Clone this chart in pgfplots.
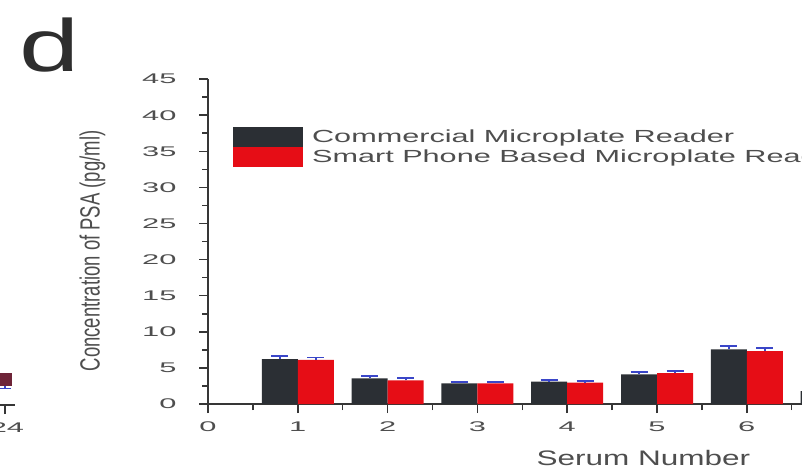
\documentclass[border=0pt]{standalone}
\usepackage{fontspec}
\setmainfont{Liberation Sans}
\usepackage{graphicx}
\usepackage{pgfplots}
\usepackage{pgfplotstable}
\pgfplotsset{compat=1.18}

\definecolor{barblack}{HTML}{2B2F34}
\definecolor{barred}{HTML}{E60D16}
\definecolor{errblue}{HTML}{3A46C8}
\definecolor{txtgray}{HTML}{4E4E4E}
\definecolor{axgray}{HTML}{363636}
\definecolor{dotmaroon}{HTML}{6E2438}

% wide lettering of the figure
\newcommand{\sx}[1]{\scalebox{1.5}[1]{#1}}
\newcommand{\sy}[1]{\scalebox{1}[1.5]{#1}}
\newcommand{\sxx}[1]{\scalebox{2.2}[1]{#1}}
\newcommand{\sxl}[1]{\scalebox{1.75}[1]{#1}}

% PSA concentration per serum sample (pg/ml) with error
\pgfplotstableread{
serum commercial comerr phone phoneerr
1 6.20 0.40 6.10 0.35
2 3.56 0.35 3.28 0.30
3 2.87 0.20 2.87 0.20
4 3.09 0.25 2.95 0.20
5 4.11 0.30 4.29 0.30
6 7.58 0.45 7.34 0.45
7 1.80 0.20 1.80 0.20
}\serumdata

\begin{document}
\begin{tikzpicture}
\useasboundingbox (0,0) rectangle (802pt,474pt);
\clip (0,0) rectangle (802pt,474pt);
\fill[white] (0,0) rectangle (802pt,474pt);

% panel letter
\node[anchor=south west, inner sep=0pt, text=black!82] at (19pt,402pt)
  {\fontsize{74}{74}\selectfont\scalebox{1.46}[1]{d}};

% edge of the neighbouring panel
\begin{axis}[
  at={(15pt,69pt)}, anchor=south east,
  x=20pt, y=1pt,
  xmin=23, xmax=24.5, ymin=0, ymax=40,
  axis x line*=bottom, axis y line=none,
  axis line style={line width=1.8pt, color=axgray},
  xtick={24}, tick align=outside,
  major tick length=9pt,
  tick style={line width=1.5pt, color=axgray},
  /pgf/number format/assume math mode=true,
  xticklabel={\sxx{\pgfmathprintnumber{\tick}}},
  tick label style={font=\fontsize{14}{16}\selectfont, text=txtgray},
  xticklabel style={yshift=-5pt, xshift=2pt},
  clip=false,
]
\addplot[only marks, mark=square*, mark size=6pt, color=dotmaroon,
  error bars/.cd, y dir=minus, y explicit,
  error bar style={errblue, line width=1.5pt}]
  coordinates {(24,26) +- (0,9)};
\end{axis}

\begin{axis}[
  at={(208pt,70pt)}, anchor=south west,
  x=89.8pt, y=7.22pt,
  xmin=0, xmax=8, ymin=0, ymax=45,
  axis x line*=bottom, axis y line*=left,
  axis line style={line width=1.8pt, color=axgray},
  ybar=0pt, bar width=36pt,
  xtick={0,...,7}, minor xtick={0.5,1.5,...,7.5},
  ytick={0,5,...,45}, minor ytick={2.5,7.5,...,42.5},
  tick align=outside, major tick length=9pt, minor tick length=6pt,
  tick style={line width=1.5pt, color=axgray},
  /pgf/number format/assume math mode=true,
  xticklabel={\sxx{\pgfmathprintnumber{\tick}}},
  yticklabel={\sxx{\pgfmathprintnumber{\tick}}},
  tick label style={font=\fontsize{14}{16}\selectfont, text=txtgray},
  xticklabel style={yshift=-5pt},
  yticklabel style={xshift=-19pt},
  xlabel={\sx{Serum Number}},
  ylabel={\sy{Concentration of PSA (pg/ml)}},
  xlabel style={at={(rel axis cs:0.606,-0.166)}, anchor=center,
    font=\fontsize{21}{23}\selectfont, text=txtgray},
  ylabel style={at={(rel axis cs:-0.161,0.471)}, anchor=center,
    font=\fontsize{18.5}{20}\selectfont, text=txtgray},
  legend style={at={(rel axis cs:0.0347,0.852)}, anchor=north west,
    draw=none, fill=none, inner sep=0pt, row sep=0pt, column sep=9pt,
    font=\fontsize{17.5}{19}\selectfont, text=txtgray,
    cells={anchor=west}, nodes={inner sep=0pt}},
  every axis plot post/.append style={
    legend image code/.code={\fill[##1] (0pt,-10pt) rectangle (70pt,10pt);}},
]
\addplot[fill=barblack, draw=none,
  error bars/.cd, y dir=plus, y explicit,
  error bar style={errblue, line width=1.8pt},
  error mark options={errblue, line width=1.8pt, mark size=8.5pt, rotate=90}]
  table[x=serum, y=commercial, y error=comerr]{\serumdata};
\addlegendentry{\sxl{Commercial Microplate Reader}}
\addplot[fill=barred, draw=none,
  error bars/.cd, y dir=plus, y explicit,
  error bar style={errblue, line width=1.8pt},
  error mark options={errblue, line width=1.8pt, mark size=8.5pt, rotate=90}]
  table[x=serum, y=phone, y error=phoneerr]{\serumdata};
\addlegendentry{\sxl{Smart Phone Based Microplate Reader}}
\end{axis}
\end{tikzpicture}
\end{document}
